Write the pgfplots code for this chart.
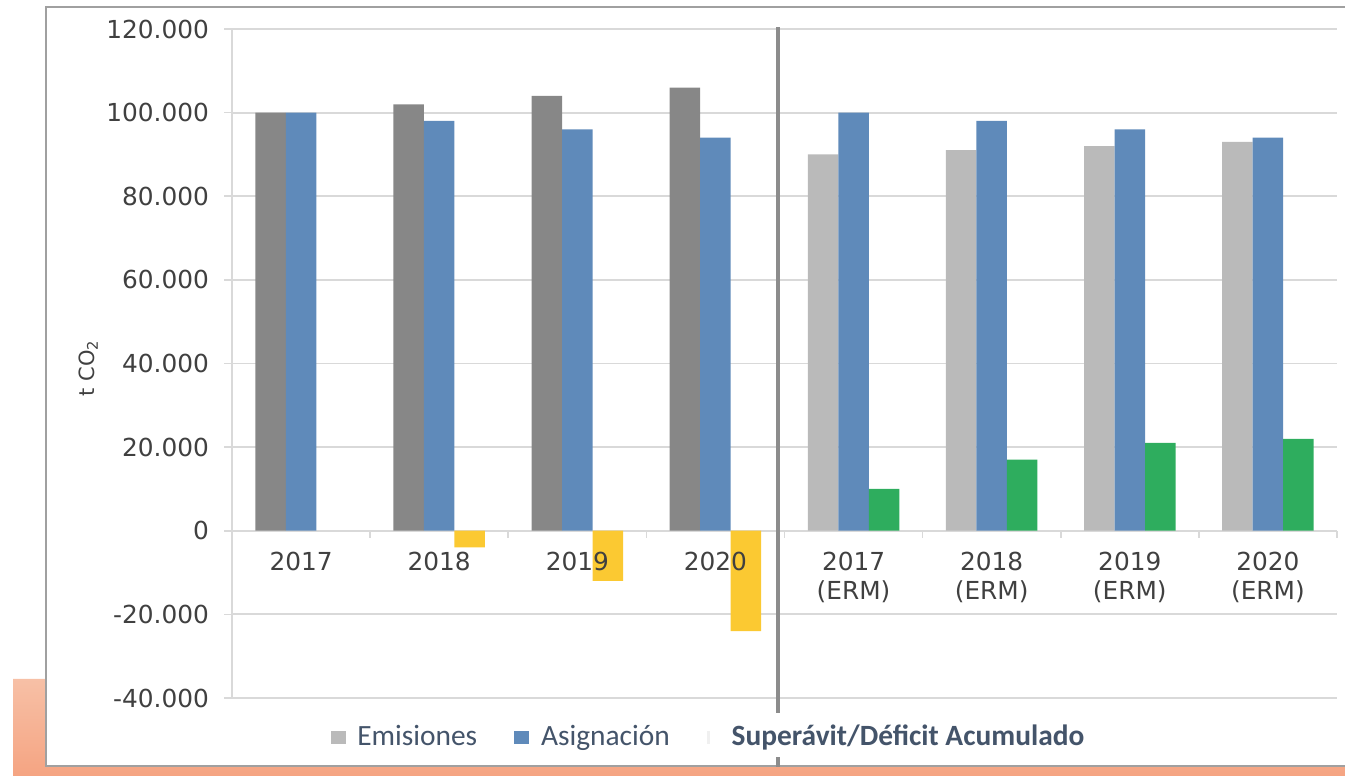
\documentclass[border=0pt]{standalone}
\usepackage{pgfplots}
\pgfplotsset{compat=1.18}
\usepackage{fontspec}
\setmainfont{DejaVu Sans}
\newfontfamily\calibri{Carlito}
\definecolor{emiDark}{HTML}{878787}
\definecolor{emiLight}{HTML}{BABABA}
\definecolor{asig}{HTML}{5F8ABA}
\definecolor{defc}{HTML}{FBC932}
\definecolor{supc}{HTML}{2EAD5E}
\definecolor{gridc}{HTML}{D9D9D9}
\definecolor{tickc}{HTML}{404040}
\definecolor{legc}{HTML}{44546A}
\definecolor{sepc}{HTML}{8C8C8C}
\definecolor{framec}{HTML}{A0A0A0}
\definecolor{orTop}{HTML}{F7C0A6}
\definecolor{orBot}{HTML}{F5A482}
\pgfplotsset{
  layers/labelsontop/.define layer set={
    axis background,axis grid,axis ticks,axis lines,pre main,main,axis tick labels,axis descriptions,axis foreground
  }{/pgfplots/layers/standard},
}
\begin{document}
\begin{tikzpicture}
\path (0,0) rectangle (672.5pt,388pt);
\begin{scope}[overlay]
\clip (0,0) rectangle (672.5pt,388pt);
\shade[top color=orTop, bottom color=orBot] (6.5pt,0) -- (6.5pt,48.5pt) -- (23pt,48.5pt) -- (23pt,5pt) -- (680pt,5pt) -- (680pt,0pt) -- cycle;
\draw[framec, line width=0.9pt] (690pt,384.5pt) -- (23pt,384.5pt) -- (23pt,5pt) -- (690pt,5pt);
\end{scope}
\begin{axis}[
  set layers=labelsontop,
  at={(116pt,39pt)}, anchor=south west,
  scale only axis, width=552.5pt, height=334.5pt,
  xmin=-0.5, xmax=7.5, ymin=-40000, ymax=120000,
  scaled y ticks=false,
  axis x line=middle, axis y line=left,
  axis line style={-, gridc, line width=0.8pt},
  ytick={-40000,-20000,0,20000,40000,60000,80000,100000,120000},
  yticklabels={-40.000,-20.000,0,20.000,40.000,60.000,80.000,100.000,120.000},
  ymajorgrids, grid style={gridc, line width=0.9pt},
  xtick={0,...,7},
  xticklabels={2017,2018,2019,2020,{2017\\(ERM)},{2018\\(ERM)},{2019\\(ERM)},{2020\\(ERM)}},
  minor xtick={0.5,1.5,...,7.5},
  xtick align=outside, ytick align=outside,
  major tick length=4pt, minor tick length=3.5pt,
  every major x tick/.style={draw=none},
  tick style={gridc, line width=0.8pt},
  hide obscured x ticks=false, hide obscured y ticks=false,
  yticklabel style={font=\fontsize{12.4}{14}\selectfont, text=tickc, xshift=-4pt},
  xticklabel style={font=\fontsize{12.4}{14.5}\selectfont, text=tickc, align=center, anchor=north, yshift=-3pt},
  ylabel={t CO\textsubscript{2}},
  ylabel style={at={(axis description cs:-0.130,0.493)}, anchor=center, font=\fontsize{10.5}{12}\selectfont, text=tickc},
  clip=false,
  legend columns=3,
  legend style={at={(axis description cs:0.4321,-0.0583)}, anchor=center, draw=none, fill=white,
    font=\calibri\fontsize{14.7}{17}\selectfont, text=legc,
    /tikz/every even column/.append style={column sep=16.5pt}},
]
\addplot[ybar, bar width=15.25pt, bar shift=-15.25pt, fill=emiDark, draw=none, forget plot]
  coordinates {(0,100000) (1,102000) (2,104000) (3,106000)};
\addplot[ybar, bar width=15.25pt, bar shift=-15.25pt, fill=emiLight, draw=none, forget plot]
  coordinates {(4,90000) (5,91000) (6,92000) (7,93000)};
\addplot[ybar, bar width=15.25pt, bar shift=0pt, fill=asig, draw=none, forget plot]
  coordinates {(0,100000) (1,98000) (2,96000) (3,94000) (4,100000) (5,98000) (6,96000) (7,94000)};
\addplot[ybar, bar width=15.25pt, bar shift=15.25pt, fill=defc, draw=none, forget plot]
  coordinates {(1,-4000) (2,-12000) (3,-24000)};
\addplot[ybar, bar width=15.25pt, bar shift=15.25pt, fill=supc, draw=none, forget plot]
  coordinates {(4,10000) (5,17000) (6,21000) (7,22000)};
\addlegendimage{legend image code/.code={\fill[white] (0pt,-3pt) rectangle (11pt,3pt); \fill[emiLight] (0pt,-3pt) rectangle (7pt,3pt);}}
\addlegendentry{Emisiones}
\addlegendimage{legend image code/.code={\fill[white] (0pt,-3pt) rectangle (11pt,3pt); \fill[asig] (0pt,-3pt) rectangle (7pt,3pt);}}
\addlegendentry{Asignación}
\addlegendimage{legend image code/.code={\fill[white] (0pt,-3pt) rectangle (10pt,3pt); \fill[gray!12] (0pt,-3pt) rectangle (1pt,3pt);}}
\addlegendentry{\textbf{Superávit/Déficit Acumulado}}
\end{axis}
\draw[sepc, line width=2pt] (389pt,4.5pt) -- (389pt,10.5pt);
\draw[sepc, line width=2pt] (389pt,31.5pt) -- (389pt,374.5pt);
\end{tikzpicture}
\end{document}
